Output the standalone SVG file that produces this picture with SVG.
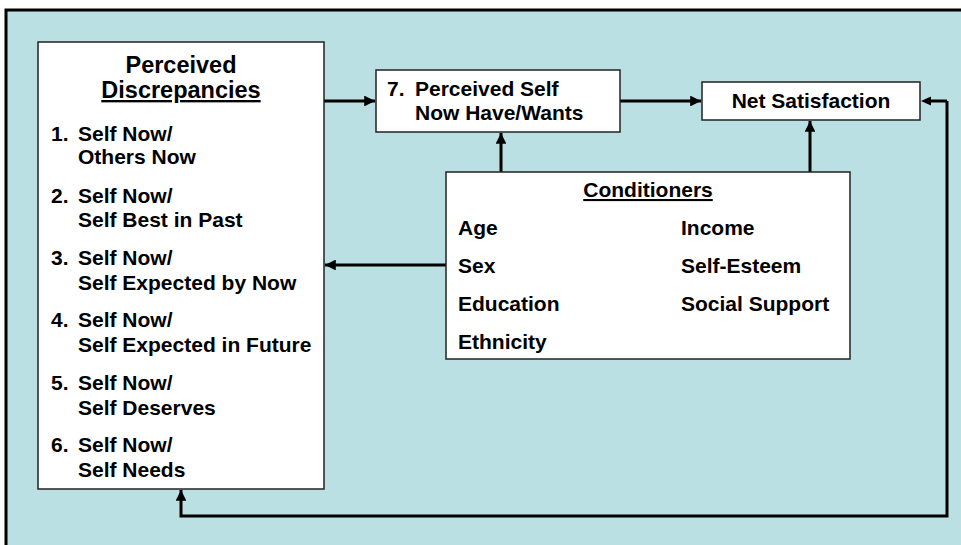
<svg xmlns="http://www.w3.org/2000/svg" width="961" height="545" viewBox="0 0 961 545">
<defs>
<marker id="ah" viewBox="0 0 10 10" refX="10" refY="5" markerWidth="3.6" markerHeight="3.6" orient="auto" markerUnits="strokeWidth">
<path d="M0,0 L10,5 L0,10 z" fill="#000"/>
</marker>
<style>
.box{fill:#fff;stroke:#222;stroke-width:1.5}
.t{font-family:"Liberation Sans",Arial,sans-serif;font-weight:bold;font-size:21px;fill:#000}
.title{font-size:23.5px}
.u{text-decoration:underline}
.c{fill:none;stroke:#000;stroke-width:3;marker-end:url(#ah)}
</style>
</defs>
<rect x="0" y="0" width="961" height="545" fill="#fff"/>
<rect x="6" y="10" width="960" height="540" fill="#BAE0E3" stroke="#000" stroke-width="3"/>

<g id="connectors">
<path class="c" d="M324,101 H375"/>
<path class="c" d="M620,101 H701"/>
<path class="c" d="M501,172 V133"/>
<path class="c" d="M810,172 V121"/>
<path class="c" d="M446,265 H325"/>
<path class="c" d="M947,101 V516 H181 V490"/>
<path d="M947,101 H930" fill="none" stroke="#000" stroke-width="3"/>
<path d="M921,101 L931,96.5 L931,105.5 z" fill="#000"/>
</g>

<g id="discrepancies">
<rect class="box" x="38" y="42" width="286" height="447"/>
<text class="t title" x="181" y="73" text-anchor="middle">Perceived</text>
<text class="t title u" x="181" y="98" text-anchor="middle">Discrepancies</text>
<text class="t" x="51" y="141">1.</text><text class="t" x="78" y="141">Self Now/</text>
<text class="t" x="78" y="164">Others Now</text>
<text class="t" x="51" y="203">2.</text><text class="t" x="78" y="203">Self Now/</text>
<text class="t" x="78" y="227">Self Best in Past</text>
<text class="t" x="51" y="265">3.</text><text class="t" x="78" y="265">Self Now/</text>
<text class="t" x="78" y="290">Self Expected by Now</text>
<text class="t" x="51" y="327">4.</text><text class="t" x="78" y="327">Self Now/</text>
<text class="t" x="78" y="352">Self Expected in Future</text>
<text class="t" x="51" y="390">5.</text><text class="t" x="78" y="390">Self Now/</text>
<text class="t" x="78" y="415">Self Deserves</text>
<text class="t" x="51" y="452">6.</text><text class="t" x="78" y="452">Self Now/</text>
<text class="t" x="78" y="477">Self Needs</text>
</g>

<g id="perceived-self">
<rect class="box" x="376" y="70" width="244" height="62"/>
<text class="t" x="387" y="96">7.</text>
<text class="t" x="415" y="96">Perceived Self</text>
<text class="t" x="415" y="120">Now Have/Wants</text>
</g>

<g id="net-satisfaction">
<rect class="box" x="702" y="82" width="218" height="38"/>
<text class="t" x="811" y="108" text-anchor="middle">Net Satisfaction</text>
</g>

<g id="conditioners">
<rect class="box" x="446" y="172" width="404" height="187"/>
<text class="t u" x="648" y="197" text-anchor="middle">Conditioners</text>
<text class="t" x="458" y="235">Age</text>
<text class="t" x="458" y="273">Sex</text>
<text class="t" x="458" y="311">Education</text>
<text class="t" x="458" y="349">Ethnicity</text>
<text class="t" x="681" y="235">Income</text>
<text class="t" x="681" y="273">Self-Esteem</text>
<text class="t" x="681" y="311">Social Support</text>
</g>
</svg>
